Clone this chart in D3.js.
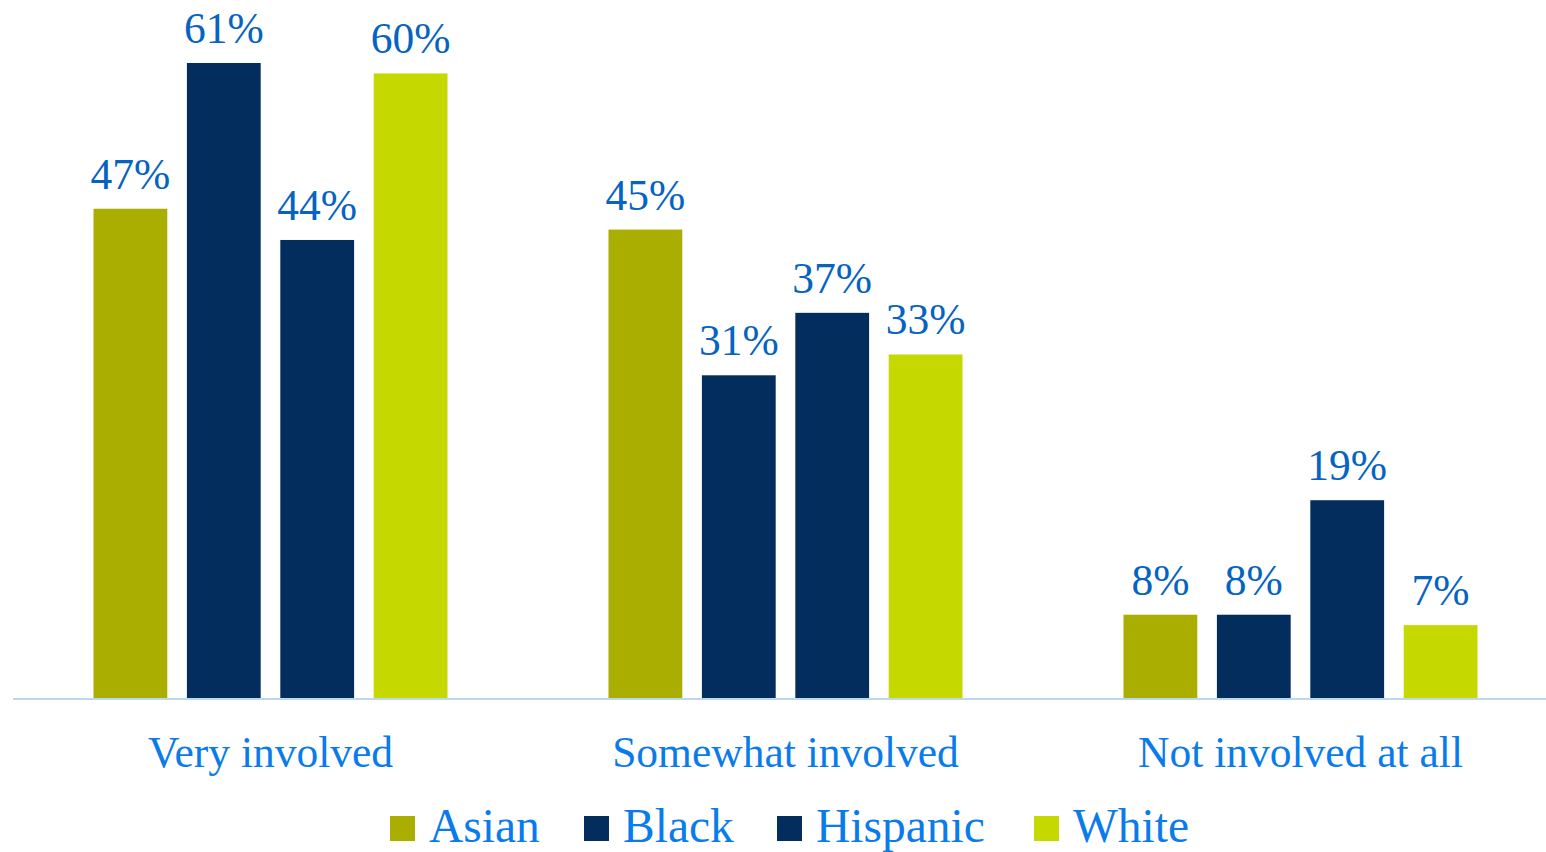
<!DOCTYPE html>
<html>
<head>
<meta charset="utf-8">
<script src="https://cdn.jsdelivr.net/npm/d3@7"></script>
<style>
  body { margin: 0; background: #fff; }
  svg { display: block; font-family: "Liberation Serif", serif; }
</style>
</head>
<body>
<svg width="1546" height="852"></svg>
<script>
/* data */
var categories = ["Very involved", "Somewhat involved", "Not involved at all"];
var groups = ["Asian", "Black", "Hispanic", "White"];
var asian = [47, 45, 8];
var black = [61, 31, 8];
var hispanic = [44, 37, 19];
var white = [60, 33, 7];

var seriesValues = [asian, black, hispanic, white];
var colors = ["#AAAE00", "#032D5C", "#032D5C", "#C5D800"];

var svg = d3.select("svg");
var baseY = 698;

/* categories across the page */
var x0 = d3.scaleBand()
    .domain(categories)
    .range([13, 1558]);

/* bars inside a category */
var x1 = d3.scaleBand()
    .domain(groups)
    .range([80.5, 515 - 80.5])
    .paddingInner(0.21);

var y = d3.scaleLinear()
    .domain([0, 61])
    .range([baseY, 63]);

var color = d3.scaleOrdinal().domain(groups).range(colors);

var rows = categories.map(function(c, i) {
  return {cat: c, values: groups.map(function(g, j) { return {key: g, value: seriesValues[j][i]}; })};
});

var cat = svg.append("g")
  .selectAll("g")
  .data(rows)
  .enter().append("g")
    .attr("transform", function(d) { return "translate(" + x0(d.cat) + ",0)"; });

cat.selectAll("rect")
  .data(function(d) { return d.values; })
  .enter().append("rect")
    .attr("x", function(d) { return x1(d.key); })
    .attr("y", function(d) { return y(d.value); })
    .attr("width", x1.bandwidth())
    .attr("height", function(d) { return baseY - y(d.value); })
    .attr("fill", function(d) { return color(d.key); });

/* value labels */
cat.selectAll("text.val")
  .data(function(d) { return d.values; })
  .enter().append("text")
    .attr("class", "val")
    .attr("x", function(d) { return x1(d.key) + x1.bandwidth() / 2; })
    .attr("y", function(d) { return y(d.value) - 20; })
    .attr("text-anchor", "middle")
    .attr("font-size", 43.5)
    .attr("fill", "#0563C1")
    .text(function(d) { return d.value + "%"; });

/* x axis */
var axis = svg.append("g")
    .attr("transform", "translate(0," + baseY + ")")
    .call(d3.axisBottom(x0).tickSize(0).tickPadding(0));

axis.select(".domain")
    .attr("stroke", "#BDD7EE")
    .attr("stroke-width", 2)
    .attr("d", "M13,1H1546");

axis.selectAll(".tick text")
    .attr("y", 69)
    .attr("dy", 0)
    .attr("font-family", "Liberation Serif, serif")
    .attr("font-size", 43.5)
    .attr("fill", "#0A7BEA");

/* legend */
var legendX = [390, 584, 777, 1034];
var legend = svg.append("g")
  .selectAll("g")
  .data(groups)
  .enter().append("g")
    .attr("transform", function(d, i) { return "translate(" + legendX[i] + ",816)"; });

legend.append("rect")
    .attr("width", 25)
    .attr("height", 25)
    .attr("fill", color);

legend.append("text")
    .attr("x", 39)
    .attr("y", 26)
    .attr("font-size", 47.5)
    .attr("fill", "#0A7BEA")
    .text(function(d) { return d; });
</script>
</body>
</html>
